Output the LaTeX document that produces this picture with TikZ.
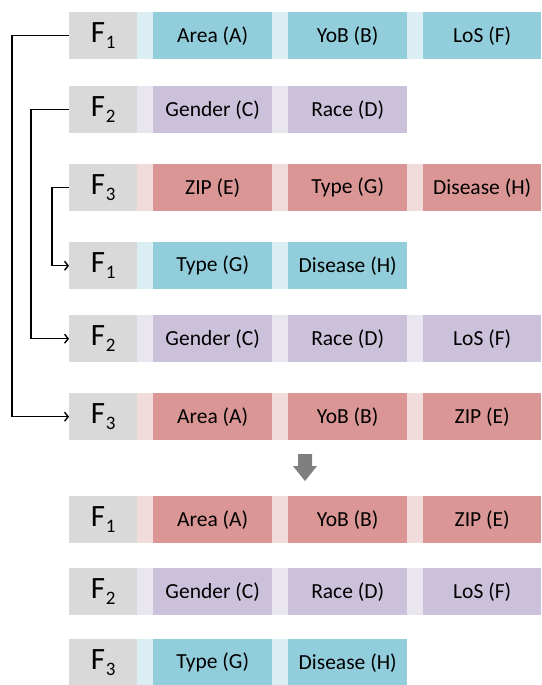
\documentclass[tikz,border=0pt]{standalone}
\usepackage{fontspec}
\setmainfont{Carlito}
\usetikzlibrary{arrows.meta}
\definecolor{gry}{HTML}{D9D9D9}
\definecolor{blu}{HTML}{92CDDC}
\definecolor{blulight}{HTML}{DAEEF3}
\definecolor{pur}{HTML}{CCC1DA}
\definecolor{purlight}{HTML}{EAE6EF}
\definecolor{red}{HTML}{DA9694}
\definecolor{redlight}{HTML}{F2DCDB}
\definecolor{darrow}{HTML}{7F7F7F}
\tikzset{
  fbox/.style={fill=gry, anchor=north west, minimum width=68pt, minimum height=47pt, inner sep=0pt,
    font=\fontsize{31}{31}\selectfont},
  cell/.style={anchor=north west, minimum width=119pt, minimum height=47pt, inner sep=0pt,
    font=\fontsize{21.5}{21.5}\selectfont},
  conn/.style={line width=1.4pt, -{Straight Barb[length=3.5pt,width=9pt,line width=1.4pt]}},
}
\newcommand\Fsub[1]{F\kern0.8pt\raisebox{-6pt}{\fontsize{19}{19}\selectfont #1}}
\newcommand\Frow[7]{%
  \if\relax\detokenize{#7}\relax
    \fill[#3light] (137,-#2) rectangle (407,{-#2-47});
  \else
    \fill[#3light] (137,-#2) rectangle (541,{-#2-47});
  \fi
  \node[fbox] (#1) at (69,-#2) {\Fsub{#4}};
  \node[cell, fill=#3] (#1a) at (153,-#2) {\raisebox{-1pt}{#5}};
  \node[cell, fill=#3] (#1b) at (288,-#2) {\raisebox{-1pt}{#6}};
  \if\relax\detokenize{#7}\relax\else
    \node[cell, fill=#3, minimum width=118pt] (#1c) at (423,-#2) {\raisebox{-1pt}{#7}};
  \fi
}
\begin{document}
\begin{tikzpicture}[x=1pt,y=1pt]
\useasboundingbox (0,0) rectangle (541,-685);
\Frow{r1}{12}{blu}{1}{Area (A)}{YoB (B)}{LoS (F)}
\Frow{r2}{86}{pur}{2}{Gender (C)}{Race (D)}{}
\Frow{r3}{164}{red}{3}{ZIP (E)}{Type (G)}{Disease (H)}
\Frow{r4}{242}{blu}{1}{Type (G)}{Disease (H)}{}
\Frow{r5}{315}{pur}{2}{Gender (C)}{Race (D)}{LoS (F)}
\Frow{r6}{393}{red}{3}{Area (A)}{YoB (B)}{ZIP (E)}
\Frow{r7}{496}{red}{1}{Area (A)}{YoB (B)}{ZIP (E)}
\Frow{r8}{568}{pur}{2}{Gender (C)}{Race (D)}{LoS (F)}
\Frow{r9}{639}{blu}{3}{Type (G)}{Disease (H)}{}
\draw[conn] (r1.west) -- ++(-57,0) |- (r6.west);
\draw[conn] (r2.west) -- ++(-38,0) |- (r5.west);
\draw[conn] (r3.west) -- ++(-17,0) |- (r4.west);
\fill[darrow] (298,-454) -- (312,-454) -- (312,-466) -- (317,-466) -- (305,-481) -- (293,-466) -- (298,-466) -- cycle;
\end{tikzpicture}
\end{document}
